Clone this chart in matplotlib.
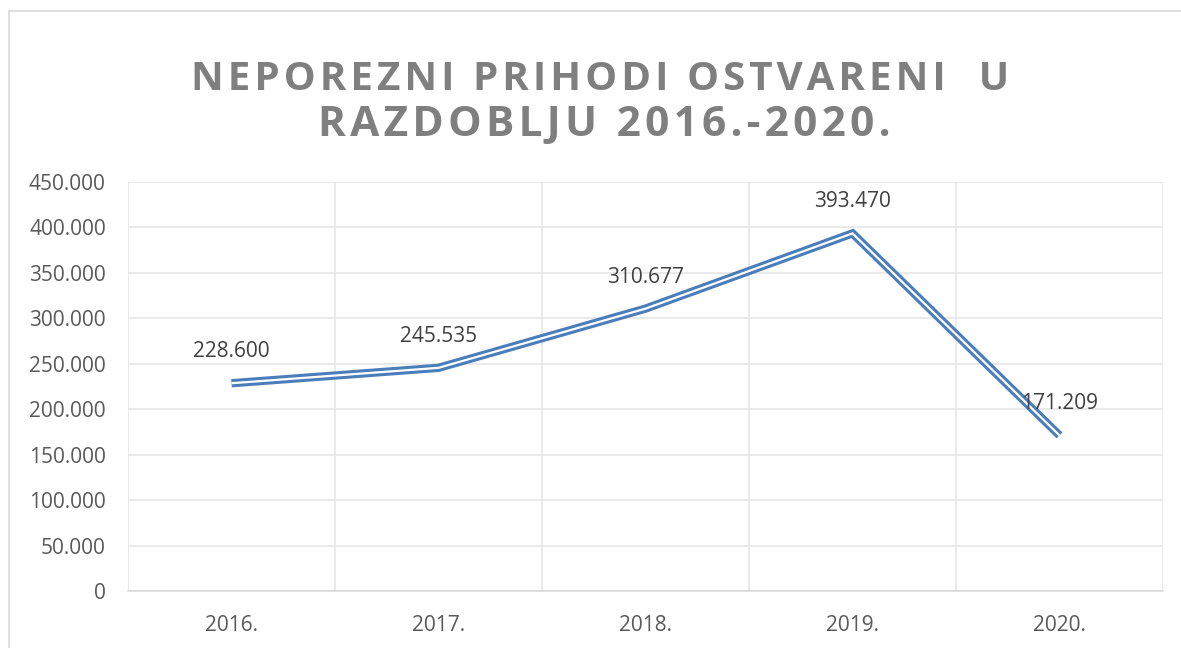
import matplotlib
matplotlib.use("Agg")
import matplotlib.pyplot as plt
from matplotlib.patches import Rectangle

# data
years = ["2016.", "2017.", "2018.", "2019.", "2020."]
values = [228600, 245535, 310677, 393470, 171209]
value_labels = ["228.600", "245.535", "310.677", "393.470", "171.209"]
y_ticks = [0, 50000, 100000, 150000, 200000, 250000, 300000, 350000, 400000, 450000]
y_tick_labels = ["0", "50.000", "100.000", "150.000", "200.000", "250.000",
                 "300.000", "350.000", "400.000", "450.000"]

plt.rcParams['font.family'] = ['Open Sans', 'DejaVu Sans']

W, H = 1181, 648
fig = plt.figure(figsize=(W / 100, H / 100), dpi=100)
fig.patch.set_facecolor('white')

# chart frame
fig.patches.append(Rectangle((9 / W, -0.05), 1.2, 1 - 11 / H + 0.05,
                             transform=fig.transFigure, fill=False,
                             edgecolor='#d9d9d9', linewidth=1.2))

ax = fig.add_axes([128 / W, 1 - 591 / H, (1163 - 128) / W, (591 - 182) / H])
x = list(range(len(years)))

# double line: thick blue with thin white core
ax.plot(x, values, color='#4A7EBB', linewidth=6.0, solid_joinstyle='miter',
        solid_capstyle='butt', zorder=3)
ax.plot(x, values, color='white', linewidth=1.6, solid_joinstyle='miter',
        solid_capstyle='butt', zorder=4)

for xi, v, lab in zip(x, values, value_labels):
    ax.annotate(lab, (xi, v), xytext=(0, 21), textcoords='offset pixels',
                ha='center', va='bottom', fontsize=15, color='#404040', zorder=5)

ax.set_xlim(-0.5, len(years) - 0.5)
ax.set_ylim(0, 450000)
ax.set_yticks(y_ticks)
ax.set_yticklabels(y_tick_labels)
ax.set_xticks(x)
ax.set_xticklabels(years)
ax.set_xticks([i - 0.5 for i in range(len(years) + 1)], minor=True)

ax.grid(axis='y', which='major', color='#e6e6e6', linewidth=1.2)
ax.grid(axis='x', which='minor', color='#e6e6e6', linewidth=1.2)
ax.set_axisbelow(True)
for s in ['top', 'right', 'left']:
    ax.spines[s].set_visible(False)
ax.spines['bottom'].set_color('#d9d9d9')
ax.spines['bottom'].set_linewidth(1.2)
ax.tick_params(axis='both', which='both', length=0, labelsize=15, colors='#595959')
ax.tick_params(axis='y', pad=16)
ax.tick_params(axis='x', pad=17)

title_lines = ["NEPOREZNI PRIHODI OSTVARENI  U", "RAZDOBLJU 2016.-2020."]
sp = "\u200a"
fig.text(600 / W, 1 - 80 / H, sp.join(title_lines[0]), ha='center', va='center',
         fontsize=29, fontweight='bold', color='#7f7f7f')
fig.text(604 / W, 1 - 126 / H, sp.join(title_lines[1]), ha='center', va='center',
         fontsize=30.5, fontweight='bold', color='#7f7f7f')

fig.savefig("out.png", dpi=100, facecolor='white')
